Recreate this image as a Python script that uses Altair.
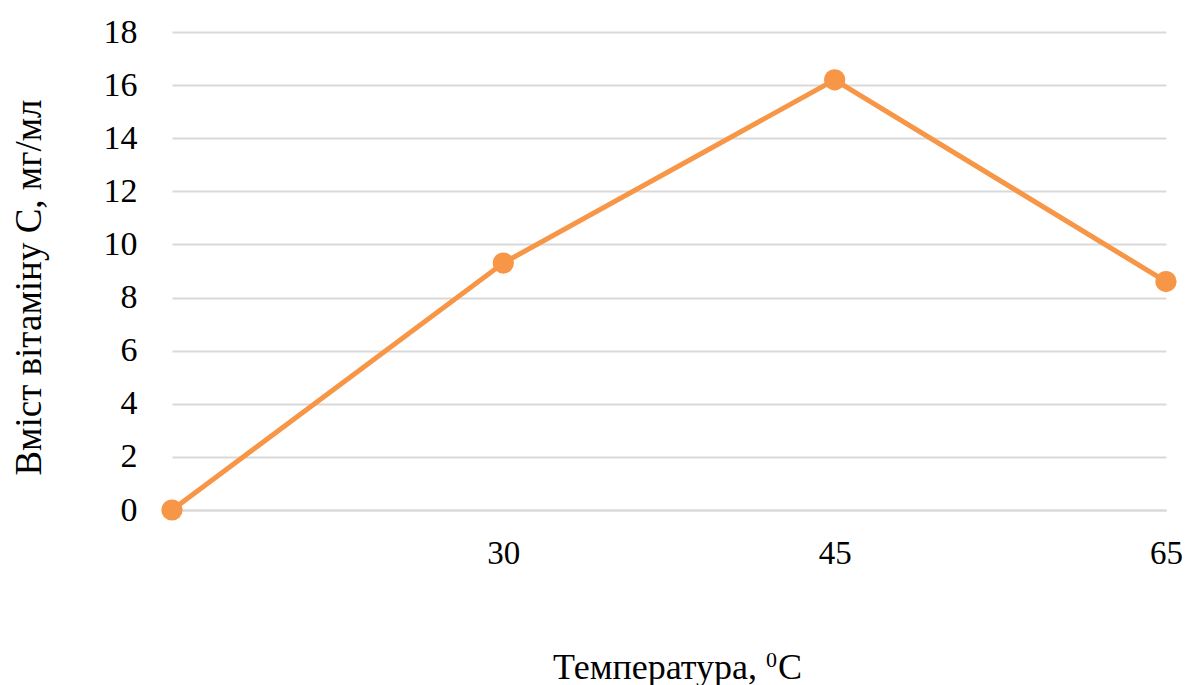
import altair as alt
import pandas as pd

categories = [" ", "30", "45", "65"]
values = [0, 9.3, 16.2, 8.6]
x_title_main = "Температура,"
x_title_sup = "0"
x_title_unit = "C"
y_title = "Вміст вітаміну С, мг/мл"

df = pd.DataFrame({"temp": categories, "vit": values})

FONT = "Liberation Serif"
ORANGE = "#F79646"

x = alt.X(
    "temp:N",
    sort=categories,
    scale=alt.Scale(type="point", padding=0),
    axis=alt.Axis(
        title=None,
        labelAngle=0,
        labelFont=FONT,
        labelFontSize=33,
        labelColor="#000000",
        labelPadding=27,
        labelBaseline="top",
        ticks=False,
        domain=True,
        domainColor="#d9d9d9",
        domainWidth=2,
        grid=False,
    ),
)
y = alt.Y(
    "vit:Q",
    scale=alt.Scale(domain=[0, 18], nice=False),
    axis=alt.Axis(
        title=y_title,
        values=list(range(0, 19, 2)),
        labelFont=FONT,
        labelFontSize=34,
        labelColor="#000000",
        labelPadding=35,
        ticks=False,
        domain=False,
        grid=True,
        gridColor="#d9d9d9",
        gridWidth=2,
        titleFont=FONT,
        titleFontSize=37,
        titleFontWeight="normal",
        titleColor="#000000",
        titleAngle=-90,
        titleBaseline="middle",
        titleX=-143,
        titleY=255,
    ),
)

line = alt.Chart(df).mark_line(color=ORANGE, strokeWidth=5).encode(x=x, y=y)
pts = alt.Chart(df).mark_circle(color=ORANGE, size=450, opacity=1).encode(x=x, y=y)

tdf = pd.DataFrame({"a": [x_title_main], "b": [x_title_sup], "c": [x_title_unit]})
t_main = alt.Chart(tdf).mark_text(
    font=FONT, fontSize=36, color="#000000", align="right", baseline="alphabetic"
).encode(x=alt.value(585), y=alt.value(647), text="a:N")
t_sup = alt.Chart(tdf).mark_text(
    font=FONT, fontSize=22, color="#000000", align="left", baseline="alphabetic"
).encode(x=alt.value(594), y=alt.value(635), text="b:N")
t_unit = alt.Chart(tdf).mark_text(
    font=FONT, fontSize=36, color="#000000", align="left", baseline="alphabetic"
).encode(x=alt.value(606), y=alt.value(647), text="c:N")

chart = (
    alt.layer(line, pts, t_main, t_sup, t_unit)
    .properties(
        width=994,
        height=478,
        autosize=alt.AutoSizeParams(type="none"),
        padding={"left": 172, "top": 32, "right": 21, "bottom": 175},
        background="#ffffff",
    )
    .configure_view(stroke=None)
)

chart.save("out.html", embed_options={"renderer": "svg", "actions": False})
